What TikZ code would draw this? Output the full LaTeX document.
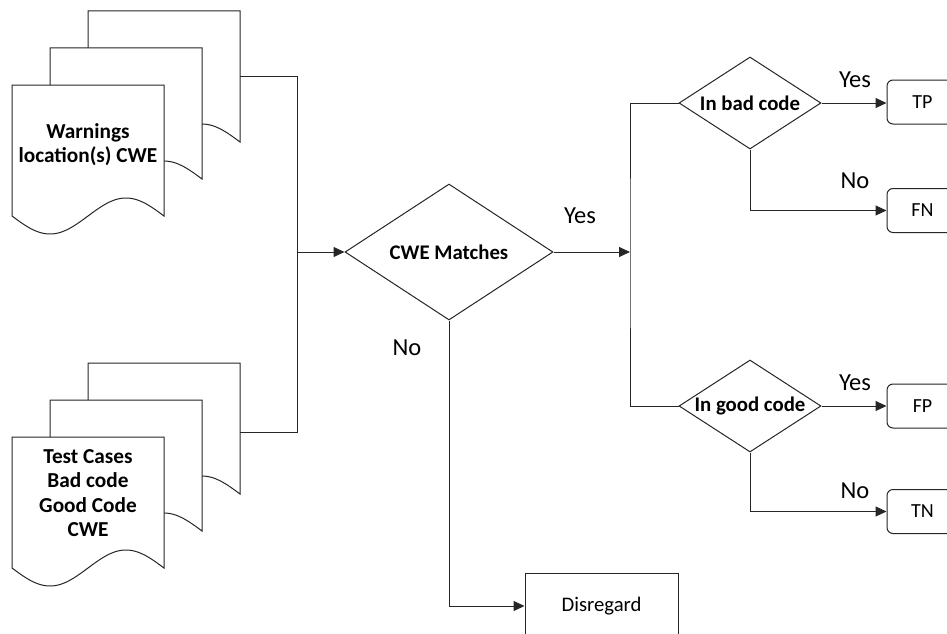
\documentclass[tikz,border=0pt]{standalone}
\usepackage{fontspec}
\setmainfont{Carlito}
\usetikzlibrary{shapes.geometric,arrows.meta}

% one printed sheet with a wavy lower edge; #1,#2 = top-left corner
\newcommand{\docsheet}[2]{%
  \draw[sheet] (#1,#2) -- ++(152,0) -- ++(0,131)
    -- plot[domain=360:0,samples=60] ({#1+\x/360*152},{#2+131+18*sin(\x)}) -- cycle;}

\begin{document}
\begin{tikzpicture}[x=1pt,y=-1pt,
  sheet/.style={draw=black!85,line width=1pt,fill=white},
  flow/.style={draw=black!85,line width=1pt},
  arr/.style={flow,-{Triangle[length=11pt,width=10pt]}},
  decision/.style={diamond,draw=black!85,line width=1pt,fill=white,inner sep=0pt},
  dtext/.style={inner sep=0pt,font=\fontsize{20.8}{25}\selectfont\bfseries},
  doctext/.style={inner sep=0pt,align=center,font=\fontsize{21.3}{24.5}\selectfont\bfseries},
  result/.style={rectangle,rounded corners=6pt,draw=black!85,line width=1pt,fill=white,
    minimum width=71pt,minimum height=44pt,font=\fontsize{20}{24}\selectfont},
  lab/.style={inner sep=0pt,anchor=base,font=\fontsize{24.5}{29}\selectfont}]

\useasboundingbox (0,0) rectangle (947,634);
\clip (0,0) rectangle (947,634);

% stack of warning sheets
\docsheet{88}{11}
\docsheet{50}{48}
\docsheet{12}{85}
\node[doctext] (warn) at (88,144.5) {Warnings\\location(s) CWE};
\coordinate (warnout) at (240,76);

% stack of test case sheets
\docsheet{88}{363}
\docsheet{50}{400}
\docsheet{12}{437}
\node[doctext] (tests) at (88,493) {Test Cases\\Bad code\\Good Code\\CWE};
\coordinate (testout) at (240,432);

% decisions
\node[decision,minimum width=208pt,minimum height=136pt] (cwe) at (449,252) {};
\node[dtext] (cwetext) at (cwe) {CWE Matches};
\node[decision,minimum width=142pt,minimum height=92pt] (bad) at (750,103) {};
\node[dtext] (badtext) at (bad) {In bad code};
\node[decision,minimum width=142pt,minimum height=92pt] (good) at (750,406) {};
\node[dtext] (goodtext) at (good) {In good code};

% outcomes
\node[result] (tp) at (922.5,102) {TP};
\node[result] (fn) at (922.5,210.5) {FN};
\node[result] (fp) at (922.5,406) {FP};
\node[result] (tn) at (922.5,511.5) {TN};
\node[rectangle,draw=black!85,line width=1pt,fill=white,minimum width=153pt,
  minimum height=66pt,font=\fontsize{20.7}{25}\selectfont] (dis) at (601.5,606) {Disregard};

% junctions
\coordinate (merge) at (297,252);
\coordinate (split) at (630,252);

% connectors
\draw[flow] (warnout) -| (merge);
\draw[flow] (testout) -| (merge);
\draw[arr] (merge) -- (cwe.west);
\draw[arr] (cwe.east) -- (split);
\draw[flow] (bad.west) -| (split) |- (good.west);
\draw[arr] (bad.east) -- (bad.east -| tp.west);
\draw[arr] (bad.south) |- (fn.west);
\draw[arr] (good.east) -- (fp.west);
\draw[arr] (good.south) |- (tn.west);
\draw[arr] (cwe.south) |- (dis.west);

% branch labels
\node[lab] (cweyes) at (580,223) {Yes};
\node[lab] (cweno) at (407,355) {No};
\node[lab] (badyes) at (855,87) {Yes};
\node[lab] (badno) at (855,188) {No};
\node[lab] (goodyes) at (855,390) {Yes};
\node[lab] (goodno) at (855,498) {No};
\end{tikzpicture}
\end{document}
